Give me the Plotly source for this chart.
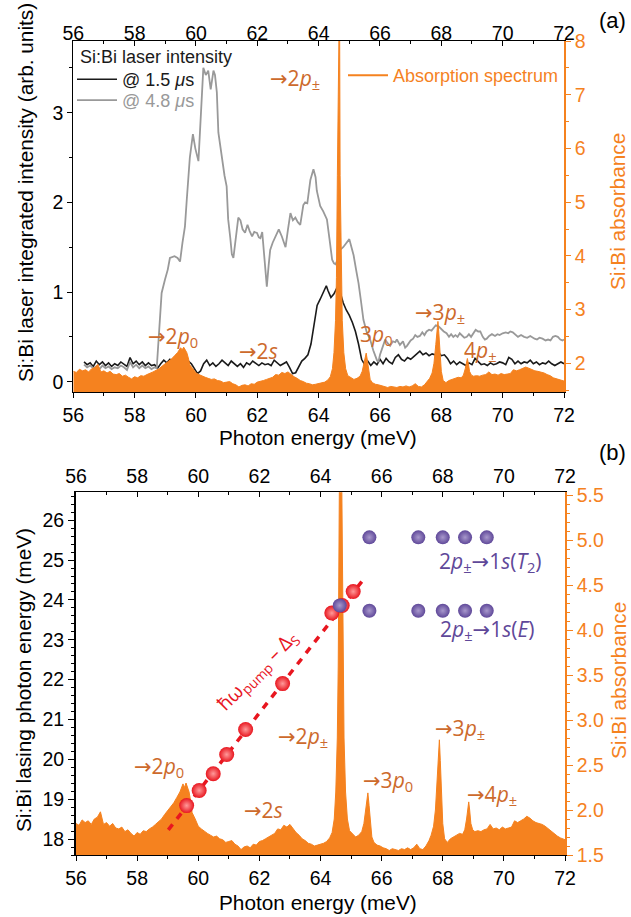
import plotly.graph_objects as go

# ---------------- data ----------------
# Panel (a): Si:Bi laser integrated intensity
E_black = [56.35,56.45,56.55,56.65,56.75,56.85,56.95,57.05,57.15,57.25,57.35,57.45,57.55,57.65,57.75,57.85,57.95,58.05,58.15,58.25,58.35,58.45,58.55,58.65,58.75,58.85,58.95,59.05,59.15,59.25,59.35,59.45,59.55,59.65,59.75,59.85,59.95,60.05,60.15,60.25,60.35,60.45,60.55,60.65,60.75,60.85,60.95,61.05,61.15,61.25,61.35,61.45,61.55,61.65,61.75,61.85,61.95,62.05,62.15,62.25,62.35,62.45,62.55,62.65,62.75,62.85,62.95,63.05,63.15,63.25,63.35,63.45,63.55,63.65,63.75,63.85,63.95,64.05,64.15,64.25,64.3,64.4,64.5,64.6,64.7,64.8,64.9,65.0,65.1,65.2,65.3,65.4,65.5,65.6,65.7,65.8,65.9,66.0,66.1,66.2,66.3,66.4,66.5,66.6,66.7,66.8,66.9,67.0,67.1,67.2,67.3,67.4,67.5,67.6,67.7,67.8,67.9,68.0,68.1,68.2,68.3,68.4,68.5,68.6,68.7,68.8,68.9,69.0,69.1,69.2,69.3,69.4,69.5,69.6,69.7,69.8,69.9,70.0,70.1,70.2,70.3,70.4,70.5,70.6,70.7,70.8,70.9,71.0,71.1,71.2,71.3,71.4,71.5,71.6,71.7,71.8,71.9,72.0]
I_black = [0.22,0.19,0.21,0.17,0.23,0.19,0.22,0.18,0.21,0.17,0.2,0.18,0.22,0.19,0.17,0.27,0.2,0.23,0.19,0.22,0.18,0.21,0.18,0.19,0.15,0.2,0.24,0.21,0.25,0.23,0.27,0.24,0.22,0.19,0.23,0.2,0.14,0.09,0.12,0.2,0.24,0.18,0.21,0.17,0.2,0.24,0.21,0.18,0.23,0.2,0.17,0.2,0.16,0.21,0.19,0.23,0.2,0.18,0.21,0.19,0.2,0.18,0.24,0.21,0.18,0.2,0.22,0.16,0.09,0.1,0.17,0.23,0.26,0.3,0.42,0.62,0.85,0.92,0.99,1.07,1.02,0.94,0.98,1.05,1.0,0.88,0.8,0.74,0.66,0.56,0.42,0.25,0.19,0.23,0.18,0.22,0.19,0.25,0.2,0.26,0.22,0.2,0.27,0.3,0.25,0.23,0.27,0.25,0.28,0.31,0.34,0.3,0.32,0.29,0.31,0.3,0.33,0.29,0.3,0.26,0.2,0.23,0.19,0.22,0.2,0.18,0.21,0.19,0.26,0.22,0.19,0.2,0.18,0.21,0.19,0.2,0.22,0.21,0.19,0.27,0.25,0.2,0.23,0.2,0.22,0.21,0.24,0.2,0.22,0.19,0.21,0.2,0.23,0.2,0.18,0.2,0.22,0.2]

E_gray = [56.35,56.45,56.55,56.65,56.75,56.85,56.95,57.05,57.15,57.25,57.35,57.45,57.55,57.65,57.75,57.85,57.95,58.05,58.15,58.25,58.35,58.45,58.55,58.65,58.72,58.8,58.88,58.99,59.08,59.15,59.3,59.4,59.48,59.56,59.64,59.7,59.8,59.9,59.98,60.08,60.16,60.24,60.32,60.4,60.48,60.57,60.62,60.68,60.73,60.8,60.87,60.93,61.0,61.05,61.12,61.17,61.22,61.3,61.38,61.45,61.52,61.6,61.68,61.75,61.83,61.9,61.99,62.05,62.1,62.16,62.22,62.31,62.37,62.42,62.5,62.6,62.7,62.8,62.92,63.0,63.08,63.16,63.24,63.32,63.4,63.5,63.56,63.63,63.68,63.73,63.83,63.9,63.94,64.05,64.15,64.27,64.35,64.44,64.5,64.55,64.62,64.7,64.8,64.9,65.0,65.07,65.14,65.22,65.3,65.38,65.46,65.57,65.68,65.78,65.9,65.95,66.0,66.08,66.17,66.25,66.33,66.42,66.5,66.55,66.65,66.75,66.82,66.88,67.0,67.08,67.15,67.22,67.3,67.38,67.45,67.52,67.6,67.68,67.74,67.82,67.9,68.0,68.08,68.17,68.25,68.32,68.39,68.46,68.53,68.6,68.68,68.75,68.83,68.9,68.97,69.05,69.12,69.2,69.27,69.35,69.42,69.48,69.56,69.65,69.75,69.83,69.9,70.0,70.1,70.18,70.25,70.33,70.42,70.5,70.6,70.7,70.8,70.9,71.04,71.12,71.2,71.3,71.4,71.48,71.56,71.64,71.72,71.8,71.88,71.95,72.0]
I_gray = [0.19,0.16,0.18,0.15,0.17,0.14,0.18,0.15,0.17,0.14,0.16,0.15,0.18,0.16,0.13,0.22,0.16,0.19,0.15,0.18,0.15,0.17,0.14,0.16,0.15,0.6,0.99,1.14,1.25,1.38,1.4,1.38,1.34,1.55,1.73,2.03,2.5,2.76,2.6,2.46,3.0,3.5,3.42,3.47,3.26,3.47,3.42,3.23,2.78,2.6,2.4,2.3,2.18,1.81,1.6,1.42,1.38,1.6,1.83,1.8,1.7,1.66,1.75,1.68,1.62,1.67,1.66,1.61,1.6,1.67,1.45,1.06,1.3,1.47,1.55,1.62,1.7,1.62,1.5,1.7,1.88,1.8,1.83,1.78,1.75,1.97,2.0,1.99,2.1,2.25,2.37,2.28,2.13,1.96,1.9,1.81,1.6,1.36,1.32,1.31,1.36,1.47,1.5,1.55,1.59,1.5,1.41,1.25,1.1,0.9,0.69,0.55,0.47,0.35,0.24,0.22,0.3,0.38,0.47,0.43,0.4,0.45,0.44,0.47,0.41,0.45,0.38,0.4,0.46,0.48,0.52,0.5,0.51,0.55,0.52,0.56,0.58,0.57,0.6,0.63,0.62,0.58,0.56,0.54,0.5,0.53,0.5,0.52,0.5,0.54,0.51,0.49,0.5,0.53,0.5,0.54,0.58,0.56,0.56,0.5,0.47,0.48,0.51,0.53,0.51,0.53,0.52,0.54,0.55,0.54,0.56,0.55,0.52,0.5,0.52,0.5,0.49,0.51,0.48,0.47,0.49,0.48,0.46,0.47,0.46,0.5,0.51,0.5,0.47,0.46,0.47]

# Absorption spectrum (absorbance)
E_abs = [56.0,56.1,56.2,56.3,56.4,56.5,56.6,56.7,56.8,56.85,56.9,57.0,57.1,57.2,57.3,57.4,57.5,57.6,57.7,57.8,57.9,58.0,58.1,58.2,58.3,58.4,58.5,58.6,58.7,58.8,58.9,59.0,59.1,59.2,59.3,59.4,59.5,59.55,59.6,59.65,59.7,59.75,59.8,59.9,60.0,60.1,60.2,60.3,60.4,60.5,60.6,60.7,60.8,60.9,61.0,61.1,61.2,61.3,61.4,61.5,61.6,61.7,61.8,61.9,62.0,62.1,62.2,62.3,62.4,62.5,62.6,62.7,62.8,62.9,63.0,63.1,63.2,63.3,63.4,63.5,63.6,63.7,63.8,63.9,64.0,64.1,64.2,64.3,64.38,64.45,64.5,64.55,64.58,64.61,64.63,64.68,64.7,64.73,64.77,64.82,64.88,64.95,65.05,65.15,65.25,65.35,65.42,65.47,65.52,65.55,65.59,65.63,65.68,65.75,65.85,65.95,66.05,66.15,66.25,66.35,66.45,66.55,66.65,66.75,66.85,66.95,67.05,67.15,67.25,67.35,67.45,67.55,67.62,67.7,67.76,67.82,67.86,67.89,67.92,67.96,68.0,68.06,68.15,68.25,68.35,68.45,68.55,68.65,68.72,68.78,68.82,68.85,68.88,68.92,68.98,69.05,69.15,69.25,69.35,69.45,69.55,69.65,69.75,69.85,69.95,70.05,70.15,70.25,70.35,70.45,70.55,70.65,70.75,70.85,70.95,71.05,71.15,71.25,71.35,71.45,71.55,71.65,71.75,71.85,71.95,72.0]
A_abs = [1.85,1.83,1.89,1.86,1.88,1.84,1.9,1.92,1.98,1.9,1.84,1.86,1.82,1.85,1.8,1.79,1.81,1.76,1.78,1.74,1.71,1.75,1.73,1.77,1.76,1.79,1.81,1.84,1.87,1.9,1.95,1.99,2.03,2.08,2.14,2.2,2.29,2.25,2.3,2.24,2.2,2.1,1.97,1.9,1.82,1.79,1.76,1.74,1.72,1.7,1.71,1.68,1.67,1.64,1.65,1.66,1.62,1.6,1.56,1.59,1.6,1.58,1.62,1.61,1.65,1.66,1.68,1.7,1.72,1.74,1.79,1.78,1.83,1.81,1.84,1.79,1.75,1.72,1.68,1.66,1.63,1.62,1.6,1.61,1.62,1.63,1.65,1.69,1.75,1.9,2.2,2.8,3.6,5.5,9.0,9.0,5.5,3.8,2.8,2.2,1.9,1.77,1.73,1.7,1.72,1.76,1.85,2.0,2.17,2.19,2.05,1.85,1.7,1.64,1.61,1.6,1.58,1.57,1.55,1.57,1.56,1.55,1.57,1.56,1.58,1.56,1.58,1.62,1.57,1.56,1.6,1.66,1.72,1.82,2.0,2.35,2.7,2.78,2.55,2.1,1.85,1.68,1.64,1.68,1.7,1.72,1.74,1.73,1.78,1.9,2.04,2.09,2.0,1.85,1.78,1.76,1.77,1.76,1.78,1.79,1.84,1.79,1.8,1.78,1.81,1.79,1.8,1.81,1.88,1.86,1.88,1.9,1.93,1.91,1.88,1.86,1.85,1.84,1.82,1.79,1.77,1.73,1.71,1.69,1.68,1.67]

# Panel (b): lasing photon energies
E_red = [59.62,60.03,60.49,60.93,61.55,62.76,64.37,64.71,65.07]
L_red = [18.84,19.22,19.64,20.12,20.75,21.9,23.67,23.86,24.21]
E_fit = [59.02,65.35]
L_fit = [18.23,24.46]
E_T2 = [65.6,67.2,68.0,68.73,69.44]
L_T2 = [25.57,25.57,25.57,25.57,25.57]
E_E = [64.63,65.6,67.2,68.0,68.73,69.44]
L_E = [23.86,23.73,23.73,23.73,23.73,23.73]

x_ticks = [56,58,60,62,64,66,68,70,72]

# ---------------- style ----------------
W, H = 631, 917
ORANGE = "#F5821F"
LABEL = "#CD6A2C"
PURPLE = "#5F4899"
RED = "#E8161F"
GRAY = "#999999"
BLACK = "#1a1a1a"
AX_FONT = "Liberation Sans, Arial, sans-serif"
LB_FONT = "Open Sans, Noto Sans, sans-serif"
ARROW = "<span style='font-family:DejaVu Sans'>→</span>"

def px_x(p):
    return p / W

def px_y(p):
    return 1 - p / H

dom_ax = [px_x(73.3), px_x(564)]
dom_ay = [px_y(392), px_y(41)]
dom_bx = [px_x(76), px_x(565)]
dom_by = [px_y(855), px_y(492.3)]

fig = go.Figure()

# (a) laser curves on base axes
fig.add_trace(go.Scatter(x=E_black, y=I_black, xaxis="x", yaxis="y", mode="lines",
                         line=dict(color=BLACK, width=1.6),
                         name="<span style='color:#1a1a1a'>@ 1.5 <i>μ</i>s</span>", legend="legend"))
fig.add_trace(go.Scatter(x=E_gray, y=I_gray, xaxis="x", yaxis="y", mode="lines",
                         line=dict(color=GRAY, width=1.8),
                         name="<span style='color:#999999'>@ 4.8 <i>μ</i>s</span>", legend="legend3"))
# (a) absorption on overlay axes
fig.add_trace(go.Scatter(x=E_abs, y=A_abs, xaxis="x3", yaxis="y2", mode="lines",
                         line=dict(color=ORANGE, width=1), fill="tozeroy", fillcolor=ORANGE,
                         showlegend=False))
# legend entry for the absorption spectrum (line sample only)
fig.add_trace(go.Scatter(x=[None], y=[None], xaxis="x3", yaxis="y2", mode="lines",
                         line=dict(color=ORANGE, width=2),
                         name="<span style='color:#F5821F'>Absorption spectrum</span>", legend="legend2"))
# (b) absorption on base axes
fig.add_trace(go.Scatter(x=E_abs, y=A_abs, xaxis="x2", yaxis="y3", mode="lines",
                         line=dict(color=ORANGE, width=1), fill="tozeroy", fillcolor=ORANGE,
                         showlegend=False))
# (b) lasing lines on overlay axes
fig.add_trace(go.Scatter(x=E_fit, y=L_fit, xaxis="x4", yaxis="y4", mode="lines",
                         line=dict(color=RED, width=3.5, dash="7px,7px"), showlegend=False))
fig.add_trace(go.Scatter(x=E_red, y=L_red, xaxis="x4", yaxis="y4", mode="markers",
                         marker=dict(size=15, color=RED, line=dict(width=0),
                                     gradient=dict(type="radial", color="#ff9a9a")),
                         showlegend=False))
fig.add_trace(go.Scatter(x=E_T2, y=L_T2, xaxis="x4", yaxis="y4", mode="markers",
                         marker=dict(size=14, color=PURPLE, line=dict(width=0),
                                     gradient=dict(type="radial", color="#a898cc")),
                         showlegend=False))
fig.add_trace(go.Scatter(x=E_E, y=L_E, xaxis="x4", yaxis="y4", mode="markers",
                         marker=dict(size=14, color=PURPLE, line=dict(width=0),
                                     gradient=dict(type="radial", color="#a898cc")),
                         showlegend=False))

common_x = dict(range=[56, 72], tickmode="array", tickvals=x_ticks, showgrid=False, zeroline=False,
                showline=True, linecolor="black", linewidth=1.2, automargin=False,
                tickfont=dict(family=AX_FONT, size=19.5, color="black"), tickcolor="black")

legend_common = dict(xanchor="left", yanchor="top", bgcolor="rgba(0,0,0,0)",
                     font=dict(family=AX_FONT, size=18), itemwidth=40)

fig.update_layout(
    template="none",
    width=W, height=H, margin=dict(l=0, r=0, t=0, b=0, pad=0),
    paper_bgcolor="white", plot_bgcolor="rgba(0,0,0,0)",
    xaxis=dict(common_x, domain=dom_ax, anchor="y", side="bottom", ticks="outside", ticklen=5,
               minor=dict(dtick=1, tick0=0, ticks="outside", ticklen=3, tickcolor="black")),
    xaxis3=dict(common_x, domain=dom_ax, anchor="y2", overlaying="x", side="top", ticks="inside", ticklen=5,
                ticklabelstandoff=-8,
                minor=dict(dtick=1, tick0=0, ticks="inside", ticklen=3, tickcolor="black")),
    yaxis=dict(domain=dom_ay, anchor="x", range=[-0.115, 3.80], tickmode="array", tickvals=[0, 1, 2, 3],
               showgrid=False, zeroline=False, showline=True, linecolor="black", linewidth=1.2,
               ticks="outside", ticklen=5, tickcolor="black", automargin=False,
               minor=dict(dtick=0.5, tick0=0, ticks="outside", ticklen=3, tickcolor="black"),
               tickfont=dict(family=AX_FONT, size=19.5, color="black")),
    yaxis2=dict(domain=dom_ay, anchor="x3", overlaying="y", side="right", range=[1.466, 8],
                tickmode="array", tickvals=[2, 3, 4, 5, 6, 7, 8], automargin=False,
                showgrid=False, zeroline=False, showline=True, linecolor=ORANGE, linewidth=1.5,
                ticks="outside", ticklen=5, tickcolor=ORANGE,
                minor=dict(dtick=0.5, tick0=0, ticks="outside", ticklen=3, tickcolor=ORANGE),
                tickfont=dict(family=AX_FONT, size=19.5, color=ORANGE)),
    xaxis2=dict(common_x, domain=dom_bx, anchor="y3", side="bottom", ticks="outside", ticklen=5,
                minor=dict(dtick=1, tick0=0, ticks="outside", ticklen=3, tickcolor="black")),
    xaxis4=dict(common_x, domain=dom_bx, anchor="y4", overlaying="x2", side="top", ticks="inside", ticklen=5,
                minor=dict(dtick=1, tick0=0, ticks="inside", ticklen=3, tickcolor="black")),
    yaxis3=dict(domain=dom_by, anchor="x2", side="right", range=[1.5, 5.53], automargin=False,
                tickmode="array", tickvals=[1.5, 2.0, 2.5, 3.0, 3.5, 4.0, 4.5, 5.0, 5.5], tickformat=".1f",
                showgrid=False, zeroline=False, showline=True, linecolor=ORANGE, linewidth=1.5,
                ticks="outside", ticklen=6, tickcolor=ORANGE,
                minor=dict(dtick=0.1, tick0=0, ticks="outside", ticklen=3, tickcolor=ORANGE),
                tickfont=dict(family=AX_FONT, size=19.5, color=ORANGE)),
    yaxis4=dict(domain=dom_by, anchor="x4", overlaying="y3", side="left", range=[17.6, 26.7],
                tickmode="array", tickvals=[18, 19, 20, 21, 22, 23, 24, 25, 26], automargin=False,
                showgrid=False, zeroline=False, showline=True, linecolor="black", linewidth=2,
                ticks="outside", ticklen=6, tickcolor="black",
                minor=dict(dtick=0.2, tick0=0, ticks="outside", ticklen=3, tickcolor="black"),
                tickfont=dict(family=AX_FONT, size=19.5, color="black")),
    legend=dict(legend_common, x=px_x(72), y=px_y(61)),
    legend3=dict(legend_common, x=px_x(72), y=px_y(82)),
    legend2=dict(legend_common, x=px_x(343), y=px_y(57)),
    showlegend=True,
)

ann = []
def A(text, x, y, xref, yref, color, size=21, angle=0, font=LB_FONT, xanchor="center"):
    ann.append(dict(text=text, x=x, y=y, xref=xref, yref=yref, showarrow=False,
                    xanchor=xanchor, yanchor="middle", textangle=angle,
                    font=dict(family=font, size=size, color=color)))

# axis titles, legend heading and panel labels (paper coords)
A("Si:Bi laser intensity", px_x(78), px_y(57), "paper", "paper", BLACK, 18, font=AX_FONT, xanchor="left")
A("Photon energy (meV)", px_x(318), px_y(437), "paper", "paper", "black", 20.8, font=AX_FONT)
A("Photon energy (meV)", px_x(318), px_y(902), "paper", "paper", "black", 20.8, font=AX_FONT)
A("Si:Bi laser integrated intensity (arb. units)", px_x(26), px_y(193), "paper", "paper", "black", 20.8, -90, AX_FONT)
A("Si:Bi lasing photon energy (meV)", px_x(23), px_y(680), "paper", "paper", "black", 20.8, -90, AX_FONT)
A("Si:Bi absorbance", px_x(617), px_y(212), "paper", "paper", ORANGE, 20.8, -90, AX_FONT)
A("Si:Bi absorbance", px_x(618), px_y(681), "paper", "paper", ORANGE, 20.8, -90, AX_FONT)
A("(a)", px_x(612), px_y(20), "paper", "paper", "black", 22, font=AX_FONT)
A("(b)", px_x(612), px_y(452), "paper", "paper", "black", 22, font=AX_FONT)

# panel (a) transition labels
A(ARROW + "2<i>p</i><sub>±</sub>", 63.24, 3.375, "x", "y", LABEL)
A(ARROW + "2<i>p</i><sub>0</sub>", 59.24, 0.5, "x", "y", LABEL)
A(ARROW + "2<i>s</i>", 62.04, 0.34, "x", "y", LABEL)
A("3<i>p</i><sub>0</sub>", 65.88, 0.52, "x", "y", LABEL)
A(ARROW + "3<i>p</i><sub>±</sub>", 67.97, 0.77, "x", "y", LABEL)
A("4<i>p</i><sub>±</sub>", 69.27, 0.34, "x", "y", LABEL)

# panel (b) labels
A(ARROW + "2<i>p</i><sub>0</sub>", 58.72, 19.82, "x4", "y4", LABEL)
A(ARROW + "2<i>s</i>", 62.12, 18.72, "x4", "y4", LABEL)
A(ARROW + "2<i>p</i><sub>±</sub>", 63.43, 20.55, "x4", "y4", LABEL)
A(ARROW + "3<i>p</i><sub>0</sub>", 66.21, 19.45, "x4", "y4", LABEL)
A(ARROW + "3<i>p</i><sub>±</sub>", 68.58, 20.75, "x4", "y4", LABEL)
A(ARROW + "4<i>p</i><sub>±</sub>", 69.61, 19.1, "x4", "y4", LABEL)
A("2<i>p</i><sub>±</sub>" + ARROW + "1<i>s</i>(<i>T</i><sub>2</sub>)", 69.55, 24.96, "x4", "y4", PURPLE)
A("2<i>p</i><sub>±</sub>" + ARROW + "1<i>s</i>(<i>E</i>)", 69.48, 23.25, "x4", "y4", PURPLE)
A("ħω<sub>pump</sub> – Δ<sub>S</sub>", 61.95, 22.22, "x4", "y4", RED, 19.5, -45)

fig.update_layout(annotations=ann)
fig.write_html("out.html", config={"displayModeBar": False},
               post_script="document.body.style.margin='0';document.body.style.overflow='hidden';")
